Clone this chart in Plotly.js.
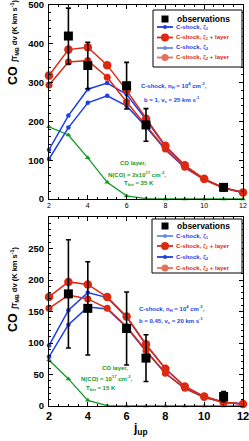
<!DOCTYPE html>
<html><head><meta charset="utf-8">
<script src="https://cdn.plot.ly/plotly-3.0.1.min.js"></script>
<style>html,body{margin:0;padding:0;background:#fff}#chart{width:249px;height:441px}</style>
</head><body><div id="chart"></div>
<script>
// ---------- data ----------
const jUp = [2, 3, 4, 5, 6, 7, 8, 9, 10, 11, 12];

// top panel (b = 1, vs = 25 km/s)
const topShockZeta1      = [127, 215, 283, 299, 270, 205, 135, 86, 51, 29, 17];
const topShockZeta1Layer = [318, 385, 391, 345, 280, 207, 137, 87, 52, 29, 17];
const topShockZeta2      = [103, 184, 248, 266, 240, 186, 127, 81, 50, 28, 17];
const topShockZeta2Layer = [294, 353, 357, 314, 250, 188, 129, 82, 50, 28, 17];
const topLayer           = [186, 165, 106, 43, 8, 1, 0, 0, 0, 0, 0];
const obsJ = [3, 4, 6, 7, 11];
const topObs    = [420, 344, 292, 191, 30];
const topObsErr = [72, 60, 60, 42, 8];

// bottom panel (b = 0.45, vs = 20 km/s)
const botShockZeta1      = [96, 152, 180, 172, 141, 97, 59, 31, 15, 6, 3];
const botShockZeta1Layer = [173, 197, 193, 173, 142, 98, 59, 31, 15, 6, 3];
const botShockZeta2      = [78, 129, 157, 154, 125, 87, 52, 28, 14, 6, 3];
const botShockZeta2Layer = [155, 176, 170, 155, 126, 88, 52, 28, 14, 6, 3];
const botLayer           = [73, 43, 9, 0.5, 0, 0, 0, 0, 0, 0, 0];
const botObs    = [178, 155, 123, 76, 15];
const botObsErr = [86, 74, 58, 37, 8];

// tick labels
const topYTicks = [0, 100, 200, 300, 400, 500];
const botYTicks = [0, 50, 100, 150, 200, 250];
const xTicks = [2, 4, 6, 8, 10, 12];

const legendLabels = ['observations', 'C-shock, ζ<sub>1</sub>', 'C-shock, ζ<sub>1</sub> + layer',
                      'C-shock, ζ<sub>2</sub>', 'C-shock, ζ<sub>2</sub> + layer'];

// ---------- styling ----------
const BLUE = '#1e3ee6', RED = '#dc2a12', GREEN = '#149a22';
const FONT = 'Liberation Sans, Arial, Helvetica, sans-serif';

function panel(xa, ya, s1, s1l, s2, s2l, lay, obs, err) {
  const common = {x: jUp, xaxis: xa, yaxis: ya, mode: 'lines+markers', showlegend: false, cliponaxis: false, hoverinfo: 'skip'};
  return [
    Object.assign({}, common, {y: lay, line: {color: GREEN, width: 1.3}, marker: {symbol: 'triangle-up', size: 5, color: GREEN}}),
    Object.assign({}, common, {y: s2, line: {color: BLUE, width: 1.5}, marker: {symbol: 'circle', size: 4.5, color: BLUE}}),
    Object.assign({}, common, {y: s1, line: {color: BLUE, width: 1.5}, marker: {symbol: 'circle', size: 4.5, color: BLUE}}),
    Object.assign({}, common, {y: s2l, line: {color: RED, width: 1.5}, marker: {symbol: 'circle', size: 7, color: RED}}),
    Object.assign({}, common, {y: s1l, line: {color: RED, width: 1.5}, marker: {symbol: 'circle', size: 8.5, color: RED}}),
    {x: obsJ, y: obs, xaxis: xa, yaxis: ya, mode: 'markers', showlegend: false, hoverinfo: 'skip',
     marker: {symbol: 'square', size: 9, color: '#000'},
     error_y: {type: 'data', array: err, color: '#000', thickness: 1.6, width: 2.5}}
  ];
}

const data = [].concat(
  panel('x', 'y', topShockZeta1, topShockZeta1Layer, topShockZeta2, topShockZeta2Layer, topLayer, topObs, topObsErr),
  panel('x2', 'y2', botShockZeta1, botShockZeta1Layer, botShockZeta2, botShockZeta2Layer, botLayer, botObs, botObsErr)
);

// pixel -> paper helpers (plot area 49..243 x 5..406)
const X = px => (px - 49) / 194;
const Y = py => (406 - py) / 401;

const axBase = {
  ticks: 'inside', ticklen: 4, tickwidth: 1, tickcolor: '#000', mirror: 'allticks',
  showline: true, linecolor: '#000', linewidth: 1, showgrid: false, zeroline: false,
  ticklabeloverflow: 'allow', automargin: false
};
const xBase = Object.assign({}, axBase, {range: [2, 12], tickmode: 'array', tickvals: xTicks,
  minor: {tickmode: 'linear', tick0: 2, dtick: 0.5, ticks: 'inside', ticklen: 2, tickcolor: '#000', showgrid: false}});

const layout = {
  width: 249, height: 441,
  margin: {l: 49, r: 6, t: 5, b: 35},
  paper_bgcolor: '#fff', plot_bgcolor: '#fff',
  font: {family: FONT, color: '#000'},
  showlegend: false,
  xaxis: Object.assign({}, xBase, {domain: [0, 1], anchor: 'y', tickfont: {size: 7, family: FONT}}),
  yaxis: Object.assign({}, axBase, {domain: [Y(199), 1], anchor: 'x', range: [0, 500], tickmode: 'array', tickvals: topYTicks,
    tickfont: {size: 9.5, weight: 'bold', family: FONT}, ticklabelstandoff: 2,
    minor: {tickmode: 'linear', tick0: 0, dtick: 20, ticks: 'inside', ticklen: 2, tickcolor: '#000', showgrid: false}}),
  xaxis2: Object.assign({}, xBase, {domain: [0, 1], anchor: 'y2', tickfont: {size: 11, weight: 'bold', family: FONT}}),
  yaxis2: Object.assign({}, axBase, {domain: [0, Y(217)], anchor: 'x2', range: [0, 300], tickmode: 'array', tickvals: botYTicks,
    tickfont: {size: 9.5, weight: 'bold', family: FONT}, ticklabelstandoff: 2,
    minor: {tickmode: 'linear', tick0: 0, dtick: 10, ticks: 'inside', ticklen: 2, tickcolor: '#000', showgrid: false}}),
  shapes: [],
  annotations: []
};

function ann(text, px, py, opts) {
  layout.annotations.push(Object.assign({
    text: text, x: X(px), y: Y(py), xref: 'paper', yref: 'paper', showarrow: false,
    xanchor: 'left', yanchor: 'middle', font: {size: 6, weight: 'bold', family: FONT, color: '#000'}
  }, opts || {}));
}

// y-axis titles
const yTitle = '<span style="font-size:12.5px">CO</span>  ∫T<sub>MB</sub> dv (K km s<sup>-1</sup>)';
ann(yTitle, 13, 43, {xanchor: 'center', textangle: -90, font: {size: 7.5, weight: 'bold', family: FONT}});
ann(yTitle, 13, 290, {xanchor: 'center', textangle: -90, font: {size: 7.5, weight: 'bold', family: FONT}});
// x-axis title (bottom)
ann('j<sub>up</sub>', 140, 429, {xanchor: 'center', font: {size: 12, weight: 'bold', family: FONT}});

// panel texts
const bf = c => ({size: 6, weight: 'bold', family: FONT, color: c});
ann('C-shock, n<sub>H</sub> = 10<sup>4</sup> cm<sup>-3</sup>,', 139, 85, {font: bf(BLUE)});
ann('b = 1, v<sub>s</sub> = 25 km s<sup>-1</sup>', 142, 99, {font: bf(BLUE)});
ann('CO layer,', 133, 163, {xanchor: 'center', font: bf(GREEN)});
ann('N(CO) = 2x10<sup>17</sup> cm<sup>-2</sup>,', 137, 174, {xanchor: 'center', font: bf(GREEN)});
ann('T<sub>kin</sub> = 35 K', 139, 184, {xanchor: 'center', font: bf(GREEN)});

ann('C-shock, n<sub>H</sub> = 10<sup>4</sup> cm<sup>-3</sup>,', 137, 308, {font: bf(BLUE)});
ann('b = 0.45, v<sub>s</sub> = 20 km s<sup>-1</sup>', 137, 320, {font: bf(BLUE)});
ann('CO layer,', 115, 368, {xanchor: 'center', font: bf(GREEN)});
ann('N(CO) = 10<sup>17</sup> cm<sup>-2</sup>,', 107, 378, {xanchor: 'center', font: bf(GREEN)});
ann('T<sub>kin</sub> = 15 K', 101, 388, {xanchor: 'center', font: bf(GREEN)});

// hand-built legends (compact, as in the figure)
function legend(box, rows, keyColors, textColors, markerR) {
  layout.shapes.push({type: 'rect', xref: 'paper', yref: 'paper', x0: X(box[0]), x1: X(box[1]),
    y0: Y(box[3]), y1: Y(box[2]), line: {color: '#000', width: 1}, fillcolor: '#fff', layer: 'above'});
  rows.forEach((ry, i) => {
    const cx = 165;
    if (i === 0) {
      layout.shapes.push({type: 'rect', xref: 'paper', yref: 'paper', xsizemode: 'pixel', ysizemode: 'pixel',
        xanchor: X(cx), yanchor: Y(ry), x0: -3.5, x1: 3.5, y0: -3.5, y1: 3.5,
        fillcolor: '#000', line: {width: 0}});
      ann(legendLabels[i], 175, ry, {font: {size: 8.5, weight: 'bold', family: FONT, color: '#000'}});
    } else {
      layout.shapes.push({type: 'line', xref: 'paper', yref: 'paper', x0: X(157), x1: X(173), y0: Y(ry), y1: Y(ry),
        line: {color: keyColors[i], width: 1.8}});
      const r = markerR[i];
      layout.shapes.push({type: 'circle', xref: 'paper', yref: 'paper', xsizemode: 'pixel', ysizemode: 'pixel',
        xanchor: X(cx), yanchor: Y(ry), x0: -r, x1: r, y0: -r, y1: r,
        fillcolor: keyColors[i], line: {width: 0}});
      ann(legendLabels[i], 174, ry, {font: bf(textColors[i])});
    }
  });
}
const txtCols = ['#000', BLUE, RED, BLUE, RED];
legend([153, 242, 10, 67], [19, 27, 37.5, 48, 57.5],
       ['#000', BLUE, RED, '#6c88f0', '#e8705a'], txtCols, [0, 2, 4, 2, 3.5]);
legend([152, 242, 219, 273], [226, 236, 246, 257, 268],
       ['#000', '#6c88f0', RED, BLUE, '#e8705a'], txtCols, [0, 2, 4, 2, 3.5]);

Plotly.newPlot('chart', data, layout, {staticPlot: true, displayModeBar: false});
</script>
</body></html>
